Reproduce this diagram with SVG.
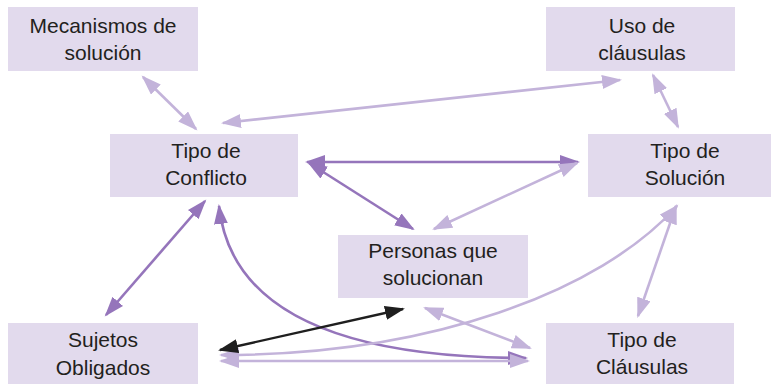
<svg xmlns="http://www.w3.org/2000/svg" width="771" height="384" viewBox="0 0 771 384">
<style>
.box{fill:#e2daed}
.t{font-family:"Liberation Sans",Arial,sans-serif;font-size:21px;fill:#231f20;text-anchor:middle}
.l{fill:none;stroke:#c3b3da;stroke-width:2.6}
.d{fill:none;stroke:#9575bb;stroke-width:2.6}
.k{fill:none;stroke:#1f1f1f;stroke-width:2.4}
</style>
<defs>
<marker id="ml" markerUnits="userSpaceOnUse" markerWidth="21" markerHeight="15" refX="18" refY="7" orient="auto-start-reverse"><path d="M0,0 L20,7 L0,14 z" fill="#c3b3da"/></marker>
<marker id="md" markerUnits="userSpaceOnUse" markerWidth="21" markerHeight="15" refX="18" refY="7" orient="auto-start-reverse"><path d="M0,0 L20,7 L0,14 z" fill="#9575bb"/></marker>
<marker id="mk" markerUnits="userSpaceOnUse" markerWidth="21" markerHeight="15" refX="18" refY="7" orient="auto-start-reverse"><path d="M0,0 L20,7 L0,14 z" fill="#1f1f1f"/></marker>
</defs>
<g id="n-mecanismos"><rect class="box" x="8" y="7" width="190" height="64"/><text class="t" x="103" y="33">Mecanismos de</text><text class="t" x="103" y="60">solución</text></g>
<g id="n-uso"><rect class="box" x="546" y="7" width="189" height="64"/><text class="t" x="642" y="33">Uso de</text><text class="t" x="642" y="60">cláusulas</text></g>
<g id="n-conflicto"><rect class="box" x="110" y="134" width="188" height="63"/><text class="t" x="206" y="158">Tipo de</text><text class="t" x="206" y="185">Conflicto</text></g>
<g id="n-solucion"><rect class="box" x="588" y="134" width="183" height="63"/><text class="t" x="685" y="158">Tipo de</text><text class="t" x="685" y="185">Solución</text></g>
<g id="n-personas"><rect class="box" x="338" y="235" width="190" height="63"/><text class="t" x="433" y="258">Personas que</text><text class="t" x="433" y="285">solucionan</text></g>
<g id="n-sujetos"><rect class="box" x="8" y="323" width="190" height="61"/><text class="t" x="103" y="347">Sujetos</text><text class="t" x="103" y="375">Obligados</text></g>
<g id="n-clausulas"><rect class="box" x="546" y="323" width="188" height="61"/><text class="t" x="642" y="347">Tipo de</text><text class="t" x="642" y="374">Cláusulas</text></g>
<g id="connectors">
<line class="l" x1="143" y1="77" x2="196" y2="129" marker-start="url(#ml)" marker-end="url(#ml)"/>
<line class="l" x1="223" y1="123" x2="620" y2="80" marker-start="url(#ml)" marker-end="url(#ml)"/>
<line class="l" x1="653" y1="75" x2="678" y2="127" marker-start="url(#ml)" marker-end="url(#ml)"/>
<line class="d" x1="307" y1="162" x2="578" y2="162" marker-start="url(#md)" marker-end="url(#md)"/>
<line class="d" x1="309" y1="163" x2="413" y2="229" marker-start="url(#md)" marker-end="url(#md)"/>
<line class="l" x1="577" y1="163" x2="434" y2="229" marker-start="url(#ml)" marker-end="url(#ml)"/>
<line class="d" x1="205" y1="201" x2="106" y2="315" marker-start="url(#md)" marker-end="url(#md)"/>
<path class="d" d="M219,206 C232,325 370,358 526,358" marker-start="url(#md)" marker-end="url(#md)"/>
<path class="l" d="M677,206 C600,292 430,355 221,355" marker-start="url(#ml)" marker-end="url(#ml)"/>
<line class="l" x1="676" y1="206" x2="638" y2="316" marker-start="url(#ml)" marker-end="url(#ml)"/>
<line class="l" x1="221" y1="361" x2="528" y2="361" marker-start="url(#ml)" marker-end="url(#ml)"/>
<line class="l" x1="425" y1="308" x2="530" y2="348" marker-start="url(#ml)" marker-end="url(#ml)"/>
<line class="k" x1="220" y1="350" x2="403" y2="309" marker-start="url(#mk)" marker-end="url(#mk)"/>
</g>
</svg>
